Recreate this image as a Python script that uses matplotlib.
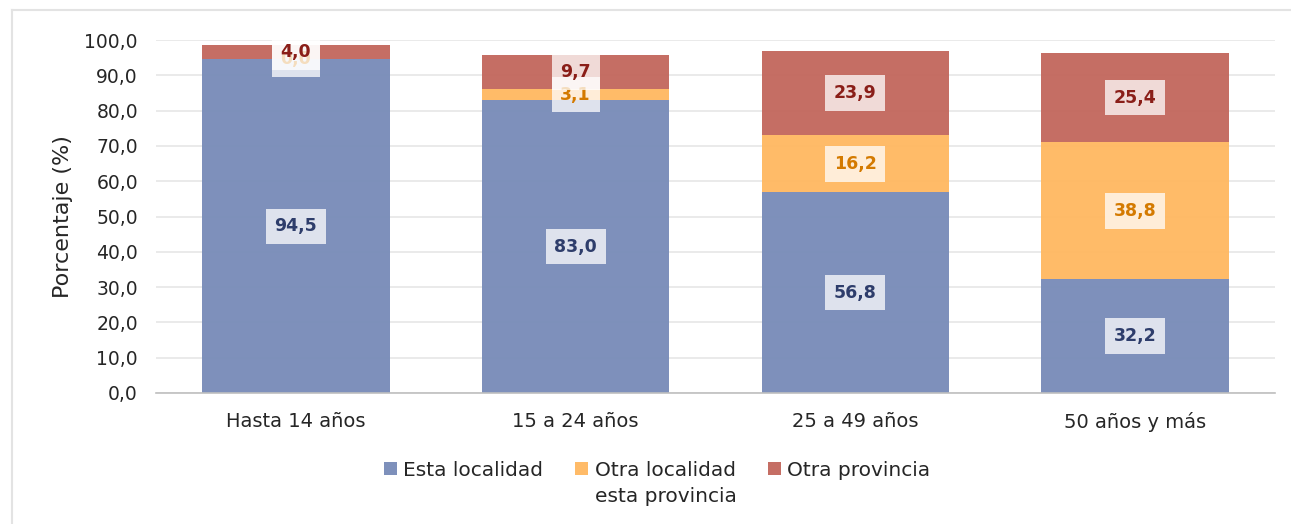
import matplotlib
matplotlib.use("Agg")
import matplotlib.pyplot as plt
from matplotlib.lines import Line2D
import numpy as np

categories = ["Hasta 14 años", "15 a 24 años", "25 a 49 años", "50 años y más"]
series_names = ["Esta localidad", "Otra localidad", "Otra provincia"]
legend_second_line = "esta provincia"
esta_localidad = [94.5, 83.0, 56.8, 32.2]
otra_localidad = [0.0, 3.1, 16.2, 38.8]
otra_provincia = [4.0, 9.7, 23.9, 25.4]
y_ticks = [0, 10, 20, 30, 40, 50, 60, 70, 80, 90, 100]

colors = ["#7A8DB9", "#FFB963", "#C3695F"]
label_colors = ["#2E3D6B", "#D47A00", "#8A1E18"]

plt.rcParams['font.family'] = ['DejaVu Sans']

W, H = 1291, 524
fig = plt.figure(figsize=(W/100, H/100), dpi=100)
ax_left, ax_right = 156, 1275
ax = fig.add_axes([ax_left/W, 1-393/H, (ax_right-ax_left)/W, (393-40)/H])

x = np.arange(len(categories))
width = 0.67
series = [esta_localidad, otra_localidad, otra_provincia]
bottom = np.zeros(len(categories))
for vals, c, lc, name in zip(series, colors, label_colors, series_names):
    vals = np.array(vals)
    ax.bar(x, vals, width, bottom=bottom, color=c, label=name, zorder=2, alpha=0.97)
    for xi, b, v in zip(x, bottom, vals):
        ax.text(xi, b + v/2, f"{v:.1f}".replace(".", ","), ha="center", va="center",
                fontsize=12.5, fontweight="bold", color=lc, zorder=4,
                bbox=dict(boxstyle="square,pad=0.5", facecolor="white", edgecolor="none", alpha=0.75))
    bottom = bottom + vals

ax.set_xlim(-0.5, len(categories) - 0.5)
ax.set_ylim(0, 100)
ax.set_yticks(y_ticks)
ax.set_yticklabels([f"{t:.1f}".replace(".", ",") for t in y_ticks], fontsize=13.5, color="#262626")
ax.set_xticks(x)
ax.set_xticklabels(categories, fontsize=14, color="#262626")
ax.tick_params(axis="y", length=0, pad=13)
ax.tick_params(axis="x", length=0, pad=14)
ax.grid(axis="y", color="#E6E6E6", linewidth=1.2, zorder=0)
ax.set_axisbelow(True)
for s in ["top", "right", "left"]:
    ax.spines[s].set_visible(False)
ax.spines["bottom"].set_color("#BFBFBF")
ax.spines["bottom"].set_linewidth(1.2)
ax.set_ylabel("Porcentaje (%)", fontsize=16, color="#262626")
ax.yaxis.set_label_coords((73 - ax_left) / (ax_right - ax_left), 0.5)

leg = fig.legend(loc="center", bbox_to_anchor=(657/W, 1-470/H), ncol=3, frameon=False,
                 fontsize=14.5, handlelength=0.65, handleheight=0.65, handletextpad=0.3,
                 columnspacing=1.6, labelcolor="#262626")

fig.canvas.draw()
renderer = fig.canvas.get_renderer()
t = leg.get_texts()[1]
bb = t.get_window_extent(renderer)
fig.text(bb.x0/W, (bb.y0 - 26)/H, legend_second_line, fontsize=14.5, color="#262626",
         ha="left", va="bottom")

# outer chart border
fig.add_artist(Line2D([12/W, 1], [1-10/H, 1-10/H], transform=fig.transFigure, color="#E3E3E3", linewidth=1.5))
fig.add_artist(Line2D([12/W, 12/W], [0, 1-10/H], transform=fig.transFigure, color="#E3E3E3", linewidth=1.5))

fig.savefig("out.png", dpi=100)
